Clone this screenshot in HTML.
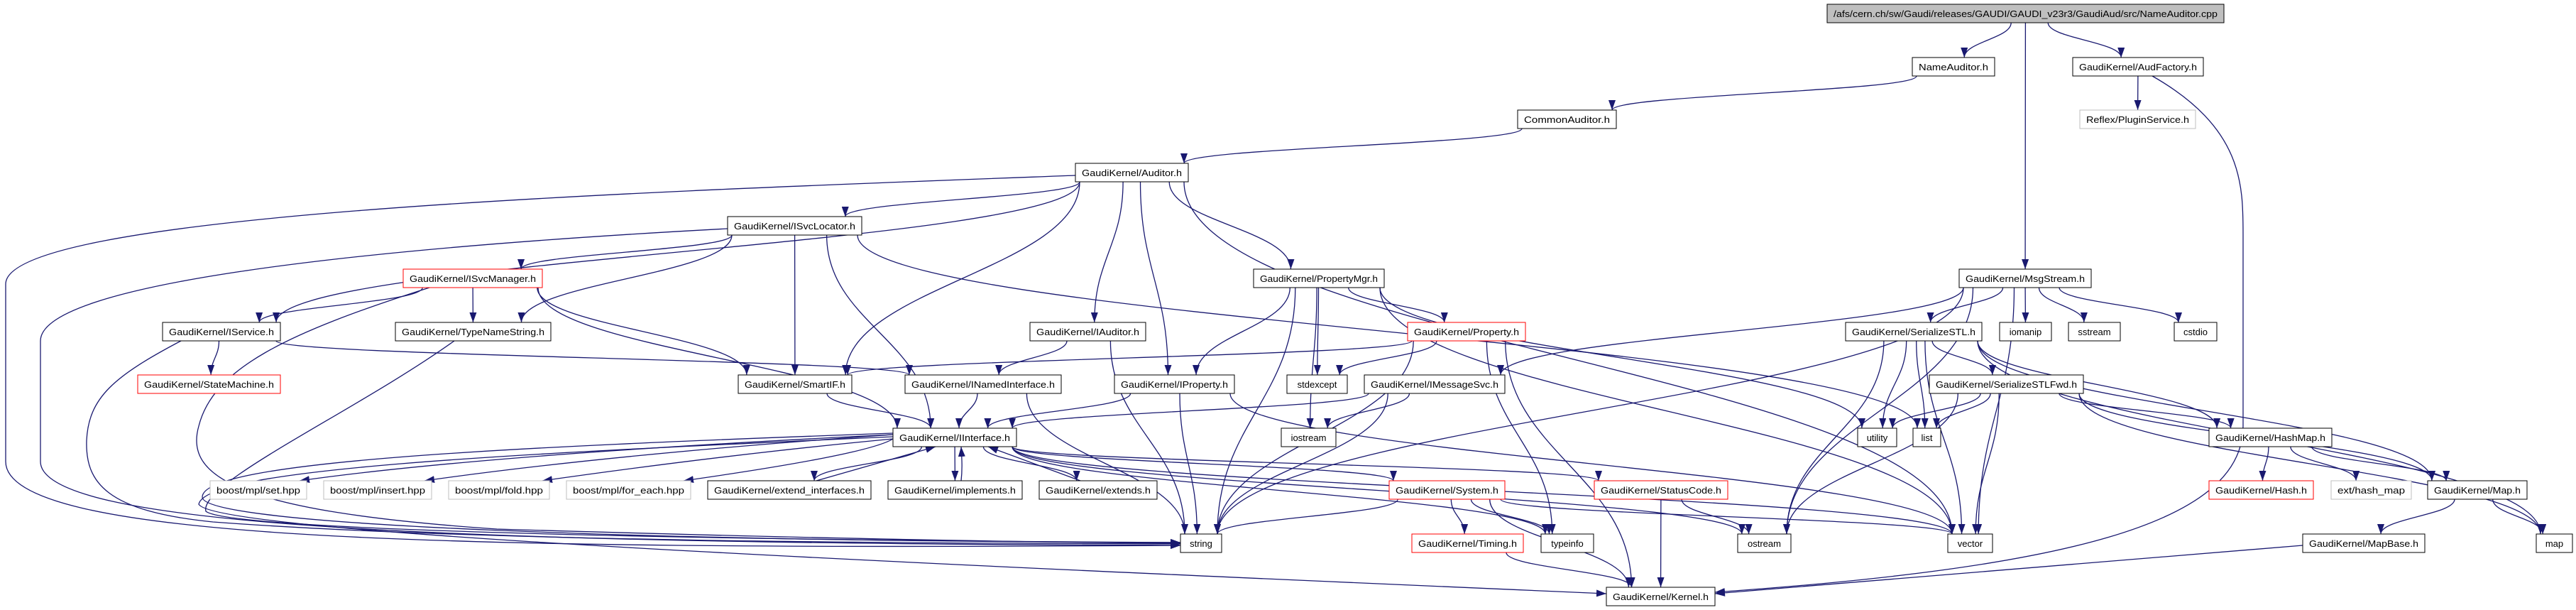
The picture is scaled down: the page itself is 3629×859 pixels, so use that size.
<!DOCTYPE html>
<html><head><meta charset="utf-8"><style>
html,body{margin:0;padding:0;background:#fff;}
svg{display:block;}
text{font-family:"Liberation Sans",sans-serif;font-size:13px;fill:#000;}
</style></head><body>
<svg id="g" width="3629" height="859" viewBox="0 0 3629 859" xmlns="http://www.w3.org/2000/svg">
<defs><marker id="ah" viewBox="0 0 14 10" refX="14" refY="5" markerWidth="14" markerHeight="10" markerUnits="userSpaceOnUse" orient="auto"><path d="M0,0 L14,5 L0,10 z" fill="#191970"/></marker></defs>
<g id="edges" fill="none" stroke="#191970" stroke-width="1.3"></g>
<g id="nodes">
<rect x="2574" y="6" width="559" height="26" fill="#bfbfbf" stroke="#000"/><text x="2853.5" y="24" text-anchor="middle" textLength="541" lengthAdjust="spacingAndGlyphs">/afs/cern.ch/sw/Gaudi/releases/GAUDI/GAUDI_v23r3/GaudiAud/src/NameAuditor.cpp</text>
<rect x="2694" y="81" width="116" height="26" fill="#fff" stroke="#000"/><text x="2752" y="99" text-anchor="middle" textLength="98" lengthAdjust="spacingAndGlyphs">NameAuditor.h</text>
<rect x="2920" y="81" width="184" height="26" fill="#fff" stroke="#000"/><text x="3012" y="99" text-anchor="middle" textLength="166" lengthAdjust="spacingAndGlyphs">GaudiKernel/AudFactory.h</text>
<rect x="2138" y="155" width="139" height="26" fill="#fff" stroke="#000"/><text x="2207.5" y="173" text-anchor="middle" textLength="121" lengthAdjust="spacingAndGlyphs">CommonAuditor.h</text>
<rect x="2930" y="155" width="163" height="26" fill="#fff" stroke="#bfbfbf"/><text x="3011.5" y="173" text-anchor="middle" textLength="145" lengthAdjust="spacingAndGlyphs">Reflex/PluginService.h</text>
<rect x="1515" y="230" width="159" height="26" fill="#fff" stroke="#000"/><text x="1594.5" y="248" text-anchor="middle" textLength="141" lengthAdjust="spacingAndGlyphs">GaudiKernel/Auditor.h</text>
<rect x="1025" y="305" width="189" height="26" fill="#fff" stroke="#000"/><text x="1119.5" y="323" text-anchor="middle" textLength="171" lengthAdjust="spacingAndGlyphs">GaudiKernel/ISvcLocator.h</text>
<rect x="568" y="379" width="196" height="26" fill="#fff" stroke="#ff0000"/><text x="666" y="397" text-anchor="middle" textLength="178" lengthAdjust="spacingAndGlyphs">GaudiKernel/ISvcManager.h</text>
<rect x="1766" y="379" width="184" height="26" fill="#fff" stroke="#000"/><text x="1858" y="397" text-anchor="middle" textLength="166" lengthAdjust="spacingAndGlyphs">GaudiKernel/PropertyMgr.h</text>
<rect x="2760" y="379" width="186" height="26" fill="#fff" stroke="#000"/><text x="2853" y="397" text-anchor="middle" textLength="168" lengthAdjust="spacingAndGlyphs">GaudiKernel/MsgStream.h</text>
<rect x="229" y="454" width="166" height="26" fill="#fff" stroke="#000"/><text x="312" y="472" text-anchor="middle" textLength="148" lengthAdjust="spacingAndGlyphs">GaudiKernel/IService.h</text>
<rect x="557" y="454" width="219" height="26" fill="#fff" stroke="#000"/><text x="666.5" y="472" text-anchor="middle" textLength="201" lengthAdjust="spacingAndGlyphs">GaudiKernel/TypeNameString.h</text>
<rect x="1451" y="454" width="163" height="26" fill="#fff" stroke="#000"/><text x="1532.5" y="472" text-anchor="middle" textLength="145" lengthAdjust="spacingAndGlyphs">GaudiKernel/IAuditor.h</text>
<rect x="1983" y="454" width="166" height="26" fill="#fff" stroke="#ff0000"/><text x="2066" y="472" text-anchor="middle" textLength="148" lengthAdjust="spacingAndGlyphs">GaudiKernel/Property.h</text>
<rect x="2600" y="454" width="192" height="26" fill="#fff" stroke="#000"/><text x="2696" y="472" text-anchor="middle" textLength="174" lengthAdjust="spacingAndGlyphs">GaudiKernel/SerializeSTL.h</text>
<rect x="2817" y="454" width="73" height="26" fill="#fff" stroke="#000"/><text x="2853.5" y="472" text-anchor="middle">iomanip</text>
<rect x="2914" y="454" width="73" height="26" fill="#fff" stroke="#000"/><text x="2950.5" y="472" text-anchor="middle">sstream</text>
<rect x="3063" y="454" width="60" height="26" fill="#fff" stroke="#000"/><text x="3093" y="472" text-anchor="middle">cstdio</text>
<rect x="194" y="528" width="201" height="26" fill="#fff" stroke="#ff0000"/><text x="294.5" y="546" text-anchor="middle" textLength="183" lengthAdjust="spacingAndGlyphs">GaudiKernel/StateMachine.h</text>
<rect x="1040" y="528" width="160" height="26" fill="#fff" stroke="#000"/><text x="1120" y="546" text-anchor="middle" textLength="142" lengthAdjust="spacingAndGlyphs">GaudiKernel/SmartIF.h</text>
<rect x="1275" y="528" width="220" height="26" fill="#fff" stroke="#000"/><text x="1385" y="546" text-anchor="middle" textLength="202" lengthAdjust="spacingAndGlyphs">GaudiKernel/INamedInterface.h</text>
<rect x="1570" y="528" width="169" height="26" fill="#fff" stroke="#000"/><text x="1654.5" y="546" text-anchor="middle" textLength="151" lengthAdjust="spacingAndGlyphs">GaudiKernel/IProperty.h</text>
<rect x="1813" y="528" width="85" height="26" fill="#fff" stroke="#000"/><text x="1855.5" y="546" text-anchor="middle">stdexcept</text>
<rect x="1922" y="528" width="198" height="26" fill="#fff" stroke="#000"/><text x="2021" y="546" text-anchor="middle" textLength="180" lengthAdjust="spacingAndGlyphs">GaudiKernel/IMessageSvc.h</text>
<rect x="2718" y="528" width="217" height="26" fill="#fff" stroke="#000"/><text x="2826.5" y="546" text-anchor="middle" textLength="199" lengthAdjust="spacingAndGlyphs">GaudiKernel/SerializeSTLFwd.h</text>
<rect x="1258" y="603" width="174" height="26" fill="#fff" stroke="#000"/><text x="1345" y="621" text-anchor="middle" textLength="156" lengthAdjust="spacingAndGlyphs">GaudiKernel/IInterface.h</text>
<rect x="1805" y="603" width="77" height="26" fill="#fff" stroke="#000"/><text x="1843.5" y="621" text-anchor="middle">iostream</text>
<rect x="2617" y="603" width="55" height="26" fill="#fff" stroke="#000"/><text x="2644.5" y="621" text-anchor="middle">utility</text>
<rect x="2695" y="603" width="39" height="26" fill="#fff" stroke="#000"/><text x="2714.5" y="621" text-anchor="middle">list</text>
<rect x="3112" y="603" width="173" height="26" fill="#fff" stroke="#000"/><text x="3198.5" y="621" text-anchor="middle" textLength="155" lengthAdjust="spacingAndGlyphs">GaudiKernel/HashMap.h</text>
<rect x="296" y="677" width="136" height="26" fill="#fff" stroke="#bfbfbf"/><text x="364" y="695" text-anchor="middle" textLength="118" lengthAdjust="spacingAndGlyphs">boost/mpl/set.hpp</text>
<rect x="456" y="677" width="152" height="26" fill="#fff" stroke="#bfbfbf"/><text x="532" y="695" text-anchor="middle" textLength="134" lengthAdjust="spacingAndGlyphs">boost/mpl/insert.hpp</text>
<rect x="632" y="677" width="142" height="26" fill="#fff" stroke="#bfbfbf"/><text x="703" y="695" text-anchor="middle" textLength="124" lengthAdjust="spacingAndGlyphs">boost/mpl/fold.hpp</text>
<rect x="798" y="677" width="175" height="26" fill="#fff" stroke="#bfbfbf"/><text x="885.5" y="695" text-anchor="middle" textLength="157" lengthAdjust="spacingAndGlyphs">boost/mpl/for_each.hpp</text>
<rect x="997" y="677" width="230" height="26" fill="#fff" stroke="#000"/><text x="1112" y="695" text-anchor="middle" textLength="212" lengthAdjust="spacingAndGlyphs">GaudiKernel/extend_interfaces.h</text>
<rect x="1251" y="677" width="189" height="26" fill="#fff" stroke="#000"/><text x="1345.5" y="695" text-anchor="middle" textLength="171" lengthAdjust="spacingAndGlyphs">GaudiKernel/implements.h</text>
<rect x="1464" y="677" width="166" height="26" fill="#fff" stroke="#000"/><text x="1547" y="695" text-anchor="middle" textLength="148" lengthAdjust="spacingAndGlyphs">GaudiKernel/extends.h</text>
<rect x="1957" y="677" width="163" height="26" fill="#fff" stroke="#ff0000"/><text x="2038.5" y="695" text-anchor="middle" textLength="145" lengthAdjust="spacingAndGlyphs">GaudiKernel/System.h</text>
<rect x="2246" y="677" width="188" height="26" fill="#fff" stroke="#ff0000"/><text x="2340" y="695" text-anchor="middle" textLength="170" lengthAdjust="spacingAndGlyphs">GaudiKernel/StatusCode.h</text>
<rect x="3112" y="677" width="147" height="26" fill="#fff" stroke="#ff0000"/><text x="3185.5" y="695" text-anchor="middle" textLength="129" lengthAdjust="spacingAndGlyphs">GaudiKernel/Hash.h</text>
<rect x="3284" y="677" width="113" height="26" fill="#fff" stroke="#bfbfbf"/><text x="3340.5" y="695" text-anchor="middle" textLength="95" lengthAdjust="spacingAndGlyphs">ext/hash_map</text>
<rect x="3420" y="677" width="140" height="26" fill="#fff" stroke="#000"/><text x="3490" y="695" text-anchor="middle" textLength="122" lengthAdjust="spacingAndGlyphs">GaudiKernel/Map.h</text>
<rect x="1663" y="752" width="58" height="26" fill="#fff" stroke="#000"/><text x="1692" y="770" text-anchor="middle">string</text>
<rect x="1989" y="752" width="157" height="26" fill="#fff" stroke="#ff0000"/><text x="2067.5" y="770" text-anchor="middle" textLength="139" lengthAdjust="spacingAndGlyphs">GaudiKernel/Timing.h</text>
<rect x="2171" y="752" width="74" height="26" fill="#fff" stroke="#000"/><text x="2208" y="770" text-anchor="middle">typeinfo</text>
<rect x="2448" y="752" width="75" height="26" fill="#fff" stroke="#000"/><text x="2485.5" y="770" text-anchor="middle">ostream</text>
<rect x="2744" y="752" width="63" height="26" fill="#fff" stroke="#000"/><text x="2775.5" y="770" text-anchor="middle">vector</text>
<rect x="3244" y="752" width="172" height="26" fill="#fff" stroke="#000"/><text x="3330" y="770" text-anchor="middle" textLength="154" lengthAdjust="spacingAndGlyphs">GaudiKernel/MapBase.h</text>
<rect x="3573" y="752" width="51" height="26" fill="#fff" stroke="#000"/><text x="3598.5" y="770" text-anchor="middle">map</text>
<rect x="2263" y="827" width="153" height="26" fill="#fff" stroke="#000"/><text x="2339.5" y="845" text-anchor="middle" textLength="135" lengthAdjust="spacingAndGlyphs">GaudiKernel/Kernel.h</text>
</g>
</svg>
<script>
var LY=[6,81,155,230,305,379,454,528,603,677,752,827],H=26;
var N={root:[2574,3133,0],NA:[2694,2810,1],AF:[2920,3104,1],CA:[2138,2277,2],PS:[2930,3093,2],AU:[1515,1674,3],SL:[1025,1214,4],SM:[568,764,5],PM:[1766,1950,5],MS:[2760,2946,5],IS:[229,395,6],TN:[557,776,6],IA:[1451,1614,6],PR:[1983,2149,6],SS:[2600,2792,6],iom:[2817,2890,6],sst:[2914,2987,6],cst:[3063,3123,6],ST:[194,395,7],SI:[1040,1200,7],NI:[1275,1495,7],IP:[1570,1739,7],sxc:[1813,1898,7],IM:[1922,2120,7],SF:[2718,2935,7],II:[1258,1432,8],ios:[1805,1882,8],uti:[2617,2672,8],lst:[2695,2734,8],HM:[3112,3285,8],bs:[296,432,9],bi:[456,608,9],bf:[632,774,9],bfe:[798,973,9],EI:[997,1227,9],IMP:[1251,1440,9],EX:[1464,1630,9],SY:[1957,2120,9],SC:[2246,2434,9],HA:[3112,3259,9],EH:[3284,3397,9],MP:[3420,3560,9],str:[1663,1721,10],TI:[1989,2146,10],tin:[2171,2245,10],ost:[2448,2523,10],vec:[2744,2807,10],MB:[3244,3416,10],map:[3573,3624,10],KE:[2263,2416,11]};
var E="root NA,root MS,root AF,NA CA,AF PS,CA AU,AU SL,AU IS,AU IA,AU IP,AU PM,AU vec,AU SI,SL SM,SL SI,SL II,SL TN,SL lst,SM IS,SM TN,SM SI,SM II,IS ST,IS NI,IA NI,PM PR,PM IP,PM sxc,PM ios,PM vec,PM uti,PM str,PR SI,PR sxc,PR str,PR tin,PR KE,MS IM,MS SS,MS iom,MS sst,MS cst,MS vec,MS str,MS ost,SS SF,SS uti,SS lst,SS ost,SS vec,SS HM,SS MP,SS map,SF uti,SF lst,SF vec,SF ost,SF HM,SF MP,SF map,HM HA,HM EH,HM MP,MP MB,MP map,SI II,NI II,NI str,IP II,IP str,IP vec,IM II,IM ios,IM str,II EI,II IMP,II EX,II SY,II SC,II tin,II ost,II vec,IA str,SY str,SY TI,SY tin,SY vec,SY KE,TI KE,SC ost,SC KE".split(",");
var g=document.getElementById("edges"),ns="http://www.w3.org/2000/svg";
function add(d){var p=document.createElementNS(ns,"path");p.setAttribute("d",d);p.setAttribute("marker-end","url(#ah)");g.appendChild(p);}
function cx(n){return (n[0]+n[1])/2;}
E.forEach(function(e){var a=N[e.split(" ")[0]],b=N[e.split(" ")[1]];
 var ca=cx(a),cb=cx(b),wa=(a[1]-a[0])/2-6,wb=(b[1]-b[0])/2-6;
 var sx=ca+Math.max(-wa,Math.min(wa,(cb-ca)*0.2)),tx=cb+Math.max(-wb,Math.min(wb,(ca-cb)*0.15));
 var sy=LY[a[2]]+H,ty=LY[b[2]],dy=ty-sy;
 add("M"+sx+","+sy+" C"+sx+","+(sy+dy*0.45)+" "+tx+","+(ty-dy*0.45)+" "+tx+","+ty);});
// back edges to IInterface
add("M1150,677 L1318,629");
add("M1354,677 C1356,660 1355,645 1354,629");
add("M1522,677 L1392,629");
// IInterface -> boost
[432,608,774,973].forEach(function(r){
 add("M1258,"+(r<700?612:618)+" Q"+(r+250)+",640 "+(r-10)+",677");});
// long curves
add("M1515,247 C900,270 8,300 8,400 L8,650 C8,760 600,775 1663,768");
add("M1025,322 C500,350 57,400 57,480 L57,650 C57,740 600,765 1663,768");
add("M255,480 C160,530 125,560 122,620 C120,680 150,720 300,735 C700,765 1400,765 1663,766");
add("M605,405 C400,470 300,520 280,600 C260,670 330,720 700,745 C1200,760 1500,764 1663,765");
add("M640,480 C500,580 280,680 290,720 C320,745 900,760 1663,764");
add("M1258,610 C700,630 285,650 285,700 C285,740 900,762 1663,764");
add("M1258,615 C700,640 290,660 280,710 C300,750 1200,790 2263,836");
add("M3032,107 C3160,180 3160,260 3160,330 L3160,600 C3160,740 2900,800 2416,834");
add("M3244,768 L2416,836");
</script>
</body></html>
